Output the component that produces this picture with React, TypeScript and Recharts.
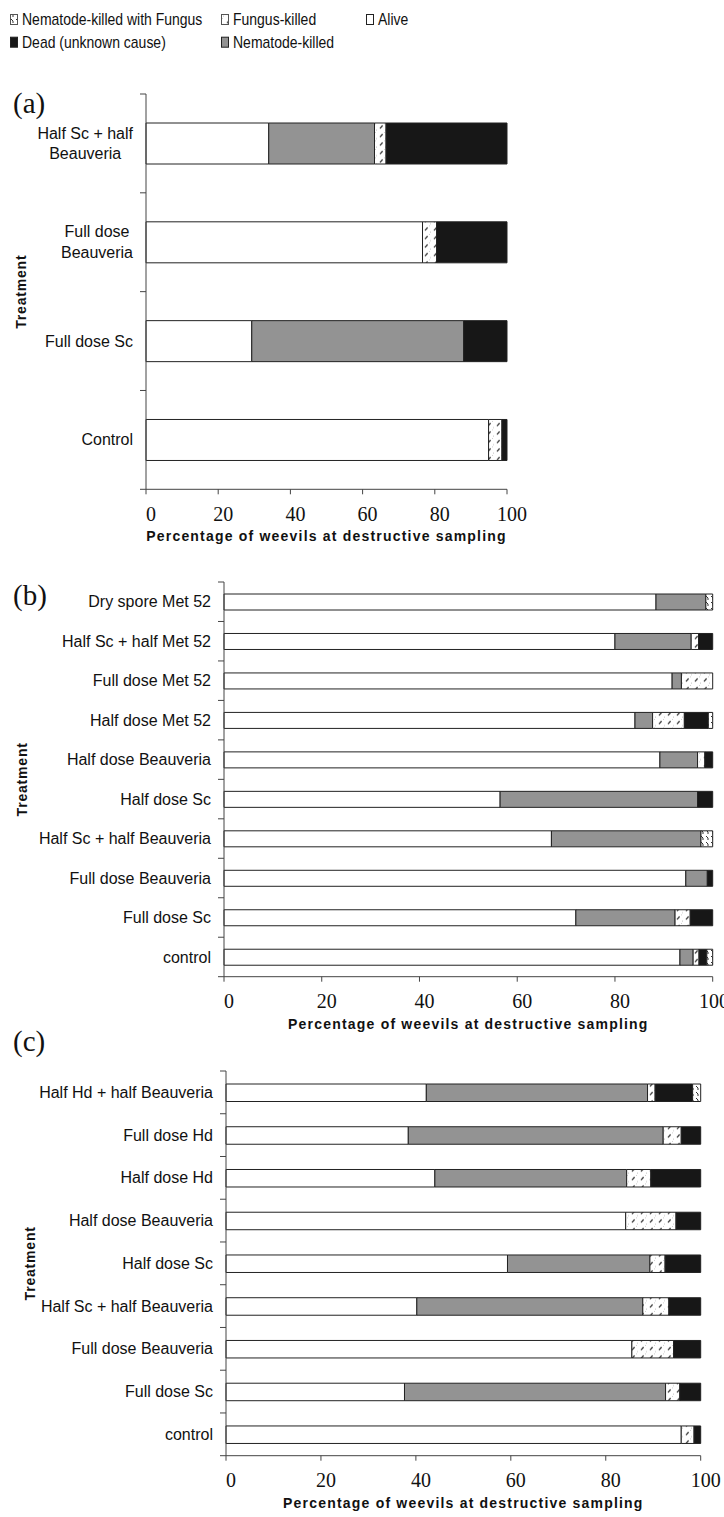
import { BarChart, Bar, XAxis, YAxis } from "recharts";

const SANS = "'Liberation Sans', Arial, sans-serif";
const SERIF = "'Liberation Serif', 'Times New Roman', serif";
const AXIS = "#444";

const seriesKeys = ["alive", "nematode", "fungus", "dead", "nemFungus"];
const seriesNames = ["Alive", "Nematode-killed", "Fungus-killed", "Dead (unknown cause)", "Nematode-killed with Fungus"];

const xTicks = [0, 20, 40, 60, 80, 100];
const xTitle = "Percentage of weevils at destructive sampling";
const yTitle = "Treatment";
const panelLabels = ["(a)", "(b)", "(c)"];

// panel (a)
const catsA = ["Half Sc + half\nBeauveria", "Full dose\nBeauveria", "Full dose Sc", "Control"];
const aliveA = [34.0, 76.6, 29.3, 94.9];
const nematodeA = [29.3, 0, 58.7, 0];
const fungusA = [3.2, 3.9, 0, 3.7];
const deadA = [33.5, 19.5, 12.0, 1.4];
const nemFungusA = [0, 0, 0, 0];

// panel (b)
const catsB = [
  "Dry spore Met 52", "Half Sc + half Met 52", "Full dose Met 52", "Half dose Met 52", "Half dose Beauveria",
  "Half dose Sc", "Half Sc + half Beauveria", "Full dose Beauveria", "Full dose Sc", "control",
];
const aliveB = [88.4, 80.0, 91.7, 84.1, 89.2, 56.5, 67.0, 94.5, 72.0, 93.3];
const nematodeB = [10.2, 15.6, 1.9, 3.6, 7.7, 40.4, 30.6, 4.4, 20.3, 2.7];
const fungusB = [0, 1.5, 6.4, 6.5, 1.5, 0, 0, 0, 3.1, 1.2];
const deadB = [0, 2.9, 0, 4.9, 1.6, 3.1, 0, 1.1, 4.6, 1.6];
const nemFungusB = [1.4, 0, 0, 0.9, 0, 0, 2.4, 0, 0, 1.2];

// panel (c)
const catsC = [
  "Half Hd + half Beauveria", "Full dose Hd", "Half dose Hd", "Half dose Beauveria", "Half dose Sc",
  "Half Sc + half Beauveria", "Full dose Beauveria", "Full dose Sc", "control",
];
const aliveC = [42.2, 38.4, 44.0, 84.2, 59.3, 40.2, 85.5, 37.6, 95.9];
const nematodeC = [46.6, 53.7, 40.4, 0, 30.0, 47.6, 0, 55.0, 0];
const fungusC = [1.6, 3.8, 5.1, 10.6, 3.2, 5.5, 8.8, 3.0, 2.7];
const deadC = [7.9, 4.1, 10.5, 5.2, 7.5, 6.7, 5.7, 4.4, 1.4];
const nemFungusC = [1.7, 0, 0, 0, 0, 0, 0, 0, 0];

function buildRows(cats: string[], ...series: number[][]) {
  return cats.map((name, i) => {
    const row: Record<string, string | number> = { name };
    seriesKeys.forEach((k, j) => (row[k] = series[j][i]));
    return row;
  });
}

const rowsA = buildRows(catsA, aliveA, nematodeA, fungusA, deadA, nemFungusA);
const rowsB = buildRows(catsB, aliveB, nematodeB, fungusB, deadB, nemFungusB);
const rowsC = buildRows(catsC, aliveC, nematodeC, fungusC, deadC, nemFungusC);

const layoutA = { id: "a", top: 80, height: 470, plotTop: 94, plotBottom: 489.3, plotLeft: 146, plotRight: 507, barSize: 41, yTitleX: 21 };
const layoutB = { id: "b", top: 565, height: 473, plotTop: 582, plotBottom: 976.7, plotLeft: 224, plotRight: 712.7, barSize: 16, yTitleX: 22 };
const layoutC = { id: "c", top: 1055, height: 462, plotTop: 1071, plotBottom: 1455.7, plotLeft: 226, plotRight: 700.7, barSize: 17.5, yTitleX: 30 };

const fills = (p: string) => ["#ffffff", "#939393", `url(#fk-${p})`, "#171717", `url(#nf-${p})`];

function Patterns({ p }: { p: string }) {
  return (
    <defs>
      <pattern id={`fk-${p}`} width={9} height={8.5} patternUnits="userSpaceOnUse">
        <rect width={9} height={8.5} fill="#fff" />
        <line x1={2} y1={6} x2={4.6} y2={3} stroke="#333" strokeWidth={1.3} />
        <circle cx={7.5} cy={7.5} r={0.5} fill="#aaa" />
        <circle cx={6.5} cy={1.5} r={0.5} fill="#bbb" />
      </pattern>
      <pattern id={`nf-${p}`} width={5} height={6} patternUnits="userSpaceOnUse">
        <rect width={5} height={6} fill="#fff" />
        <path d="M1 1 L3 3 L3 5" stroke="#333" strokeWidth={1} fill="none" />
      </pattern>
    </defs>
  );
}

let ctx: CanvasRenderingContext2D | null = null;
function measure(s: string, font: string) {
  if (!ctx) ctx = document.createElement("canvas").getContext("2d");
  if (!ctx) return s.length * 8;
  ctx.font = font;
  return ctx.measureText(s).width;
}

function CategoryTick(props: any) {
  const { y, payload, index, axisX, half, count } = props;
  const lines = String(payload.value).split("\n");
  const right = axisX - 13;
  const lh = 20.7;
  let tx = right;
  let anchor = "end";
  if (lines.length > 1) {
    const w = Math.max(...lines.map((s) => measure(s, "16px 'Liberation Sans'")));
    tx = right - w / 2;
    anchor = "middle";
  }
  return (
    <g>
      <line x1={axisX - 6} x2={axisX} y1={y - half} y2={y - half} stroke={AXIS} />
      {index === count - 1 && <line x1={axisX - 6} x2={axisX} y1={y + half} y2={y + half} stroke={AXIS} />}
      <text x={tx} y={y} textAnchor={anchor} fontFamily={SANS} fontSize={16} fill="#111">
        {lines.map((s, i) => (
          <tspan key={i} x={tx} dy={i === 0 ? -((lines.length - 1) / 2) * lh + 5.6 : lh}>
            {s}
          </tspan>
        ))}
      </text>
    </g>
  );
}

function Panel({ rows, L }: { rows: Record<string, string | number>[]; L: typeof layoutA }) {
  const X_H = 56;
  const YW = L.plotLeft - 6;
  const margin = {
    top: L.plotTop - L.top,
    right: 724 - L.plotRight,
    left: L.plotLeft - YW,
    bottom: L.top + L.height - L.plotBottom - X_H,
  };
  const half = (L.plotBottom - L.plotTop) / rows.length / 2;
  const f = fills(L.id);
  return (
    <div style={{ position: "absolute", left: 0, top: L.top }}>
      <BarChart width={724} height={L.height} data={rows} layout="vertical" margin={margin}>
        <Patterns p={L.id} />
        <XAxis
          type="number"
          domain={[0, 100]}
          ticks={xTicks}
          height={X_H}
          tickSize={5}
          tickMargin={12}
          axisLine={{ stroke: AXIS }}
          tickLine={{ stroke: AXIS }}
          tick={{ fontFamily: SERIF, fontSize: 20, fill: "#111", dx: 5 }}
          label={{
            content: ({ viewBox }: any) => (
              <text
                x={viewBox.x + viewBox.width / 2}
                y={viewBox.y + viewBox.height - 4}
                textAnchor="middle"
                fontFamily={SANS}
                fontSize={14}
                fontWeight="bold"
                letterSpacing={1.2}
                fill="#111"
              >
                {xTitle}
              </text>
            ),
          }}
        />
        <YAxis
          type="category"
          dataKey="name"
          width={YW}
          interval={0}
          tickLine={false}
          tickSize={0}
          axisLine={{ stroke: AXIS }}
          tick={(p: any) => <CategoryTick {...p} axisX={L.plotLeft} half={half} count={rows.length} />}
          label={{
            content: ({ viewBox }: any) => {
              const cy = viewBox.y + viewBox.height / 2;
              return (
                <text
                  x={L.yTitleX}
                  y={cy}
                  transform={`rotate(-90 ${L.yTitleX} ${cy})`}
                  textAnchor="middle"
                  dominantBaseline="central"
                  fontFamily={SANS}
                  fontSize={14}
                  fontWeight="bold"
                  letterSpacing={0.8}
                  fill="#111"
                >
                  {yTitle}
                </text>
              );
            },
          }}
        />
        {seriesKeys.map((k, i) => (
          <Bar
            key={k}
            dataKey={k}
            name={seriesNames[i]}
            stackId="s"
            fill={f[i]}
            stroke="#222"
            strokeWidth={1}
            barSize={L.barSize}
            isAnimationActive={false}
          />
        ))}
      </BarChart>
    </div>
  );
}

// legend layout: [series index, icon x, text baseline]
const legendSlots = [
  [4, 10, 25],
  [2, 221, 25],
  [0, 366, 25],
  [3, 10, 47.7],
  [1, 221, 47.7],
];
const panelLabelY = [113, 605, 1051];

function Overlay() {
  const f = fills("lg");
  return (
    <svg width={724} height={1517} style={{ position: "absolute", left: 0, top: 0, pointerEvents: "none" }}>
      <Patterns p="lg" />
      {legendSlots.map(([si, x, base]) => (
        <g key={si}>
          <rect x={x + 0.5} y={base - 10.5} width={7} height={10} fill={f[si]} stroke={si >= 2 && si !== 3 ? "#555" : "#222"} />
          <text
            transform={`translate(${x + 12},${base}) scale(0.875 1)`}
            fontFamily={SANS}
            fontSize={16}
            fill="#111"
          >
            {seriesNames[si]}
          </text>
        </g>
      ))}
      {panelLabels.map((t, i) => (
        <text key={t} x={13} y={panelLabelY[i]} fontFamily={SERIF} fontSize={29} fill="#111">
          {t}
        </text>
      ))}
    </svg>
  );
}

export default function App() {
  return (
    <div style={{ position: "absolute", left: 0, top: 0, width: 724, height: 1517, overflow: "hidden", background: "#fff" }}>
      <Panel rows={rowsA} L={layoutA} />
      <Panel rows={rowsB} L={layoutB} />
      <Panel rows={rowsC} L={layoutC} />
      <Overlay />
    </div>
  );
}
